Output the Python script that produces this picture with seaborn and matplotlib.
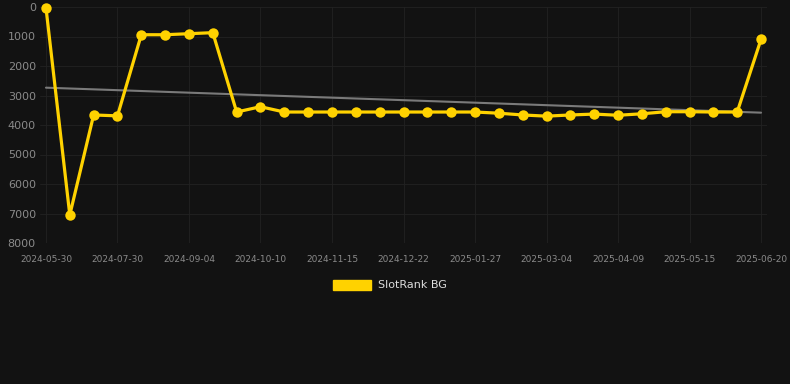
import numpy as np
import pandas as pd
import seaborn as sns
import matplotlib.pyplot as plt
from matplotlib.patches import Patch

# rank snapshots (lower = better), one per sampling date
dates = ["2024-05-30", "2024-06-19", "2024-07-10", "2024-07-30", "2024-08-11", "2024-08-23",
         "2024-09-04", "2024-09-16", "2024-09-28", "2024-10-10", "2024-10-22", "2024-11-03",
         "2024-11-15", "2024-11-27", "2024-12-10", "2024-12-22", "2025-01-03", "2025-01-15",
         "2025-01-27", "2025-02-08", "2025-02-20", "2025-03-04", "2025-03-16", "2025-03-28",
         "2025-04-09", "2025-04-21", "2025-05-03", "2025-05-15", "2025-05-27", "2025-06-08",
         "2025-06-20"]
rank = [20, 7050, 3660, 3690, 940, 940, 905, 870, 3560, 3380,
        3560, 3560, 3560, 3560, 3560, 3560, 3560, 3560, 3560, 3600,
        3660, 3700, 3660, 3630, 3670, 3620, 3550, 3550, 3560, 3560,
        1095]
yticks = [0, 1000, 2000, 3000, 4000, 5000, 6000, 7000, 8000]

BG = "#121212"
YELLOW = "#FFD200"
TXT = "#8a8a8a"


def make_frame():
    df = pd.DataFrame({"date": dates, "rank": rank})
    df["idx"] = np.arange(len(df))
    return df


def draw(df):
    sns.set_style("dark")
    fig = plt.figure(figsize=(7.9, 3.84), dpi=100, facecolor=BG)
    ax = fig.add_axes([40 / 790, 1 - 243 / 384, 727 / 790, 236 / 384])
    ax.set_facecolor(BG)

    # trend line
    sns.regplot(data=df, x="idx", y="rank", scatter=False, ci=None, truncate=True,
                line_kws={"color": "#7a7a7a", "lw": 1.5}, ax=ax)
    # main series
    sns.lineplot(data=df, x="idx", y="rank", color=YELLOW, lw=2.3, marker="o",
                 markersize=7.5, markeredgewidth=0, ax=ax, clip_on=False, zorder=3)

    ax.set_ylim(8000, 0)
    ax.set_xlim(-0.25, len(df) - 0.75)
    ax.set_yticks(yticks)
    ax.set_yticklabels([str(v) for v in yticks], color=TXT, fontsize=8)
    ax.set_xticks(df["idx"][::3])
    ax.set_xticklabels(df["date"][::3], color=TXT, fontsize=6.5)
    ax.tick_params(axis="y", length=0, pad=3)
    ax.tick_params(axis="x", length=0, pad=9)
    ax.grid(True, color="#222222", lw=0.6)
    for s in ax.spines.values():
        s.set_visible(False)
    ax.set_xlabel("")
    ax.set_ylabel("")

    handle = Patch(facecolor=YELLOW, edgecolor=YELLOW)
    fig.legend([handle], ["SlotRank BG"], loc="center", bbox_to_anchor=(390 / 790, 1 - 285 / 384),
               frameon=False, labelcolor="#dddddd", fontsize=8,
               handlelength=3.4, handleheight=1.0, handletextpad=0.6)
    fig.savefig("out.png", dpi=100, facecolor=BG)


df = make_frame()
draw(df)
